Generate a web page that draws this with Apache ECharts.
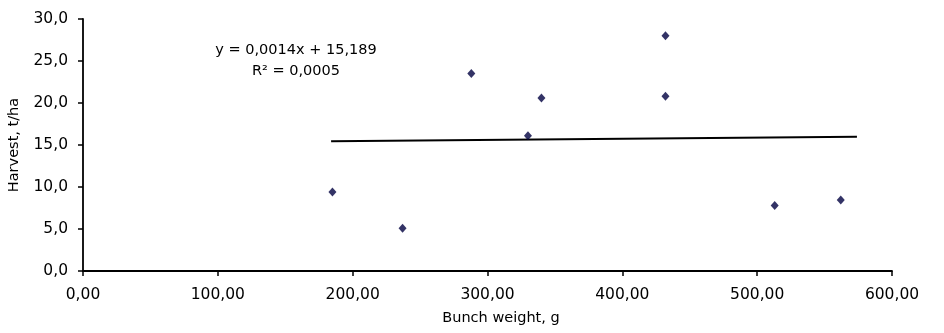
<!DOCTYPE html>
<html>
<head>
<meta charset="utf-8">
<script src="https://cdn.jsdelivr.net/npm/echarts@6/dist/echarts.min.js"></script>
<style>
  html, body { margin: 0; padding: 0; background: #fff; }
  #chart { width: 944px; height: 333px; }
</style>
</head>
<body>
<div id="chart"></div>
<script>
// bunch weight (g) vs harvest (t/ha)
const bunchWeight = [185, 237, 288, 330, 340, 432, 432, 513, 562];
const harvest = [9.4, 5.1, 23.5, 16.1, 20.6, 28.0, 20.8, 7.8, 8.45];

// linear trend line as drawn (end points)
const trendX = [184, 574];
const trendY = [15.45, 15.99];

const equationText = "y = 0,0014x + 15,189";
const rSquaredText = "R\u00b2 = 0,0005";

const font = "'DejaVu Sans', Verdana, sans-serif";
const comma = (v, d) => v.toFixed(d).replace(".", ",");

const chart = echarts.init(document.getElementById("chart"), null, { renderer: "canvas" });

chart.setOption({
  animation: false,
  grid: { left: 83, right: 52, top: 19, bottom: 62, outerBoundsMode: "none" },
  xAxis: {
    type: "value",
    min: 0,
    max: 600,
    interval: 100,
    name: "Bunch weight, g",
    nameLocation: "middle",
    nameGap: 40,
    nameTextStyle: { fontFamily: font, fontSize: 14.5, color: "#000", padding: [0, 0, 0, 27] },
    splitLine: { show: false },
    axisLine: { lineStyle: { color: "#000", width: 1.8 } },
    axisTick: { length: 5, lineStyle: { color: "#000", width: 1.5 } },
    axisLabel: {
      fontFamily: font, fontSize: 15.5, color: "#000", margin: 16,
      formatter: (v) => comma(v, 2)
    }
  },
  yAxis: {
    type: "value",
    min: 0,
    max: 30,
    interval: 5,
    name: "Harvest, t/ha",
    nameLocation: "middle",
    nameGap: 61,
    nameTextStyle: { fontFamily: font, fontSize: 14.5, color: "#000" },
    splitLine: { show: false },
    axisLine: { show: true, lineStyle: { color: "#000", width: 1.8 } },
    axisTick: { show: true, length: 5, lineStyle: { color: "#000", width: 1.5 } },
    axisLabel: {
      fontFamily: font, fontSize: 15.5, color: "#000", margin: 15,
      formatter: (v) => comma(v, 1)
    }
  },
  series: [
    {
      type: "line",
      data: trendX.map((x, i) => [x, trendY[i]]),
      showSymbol: false,
      lineStyle: { color: "#000", width: 2 },
      silent: true,
      z: 1
    },
    {
      type: "scatter",
      data: bunchWeight.map((x, i) => [x, harvest[i]]),
      symbol: "diamond",
      symbolSize: [8, 9],
      itemStyle: { color: "#000040" },
      z: 3
    }
  ],
  graphic: [
    {
      type: "text",
      x: 296, y: 50,
      style: { text: equationText, font: "14.5px " + font, fill: "#000", align: "center", verticalAlign: "middle" }
    },
    {
      type: "text",
      x: 296, y: 71,
      style: { text: rSquaredText, font: "14.5px " + font, fill: "#000", align: "center", verticalAlign: "middle" }
    }
  ]
});
</script>
</body>
</html>
